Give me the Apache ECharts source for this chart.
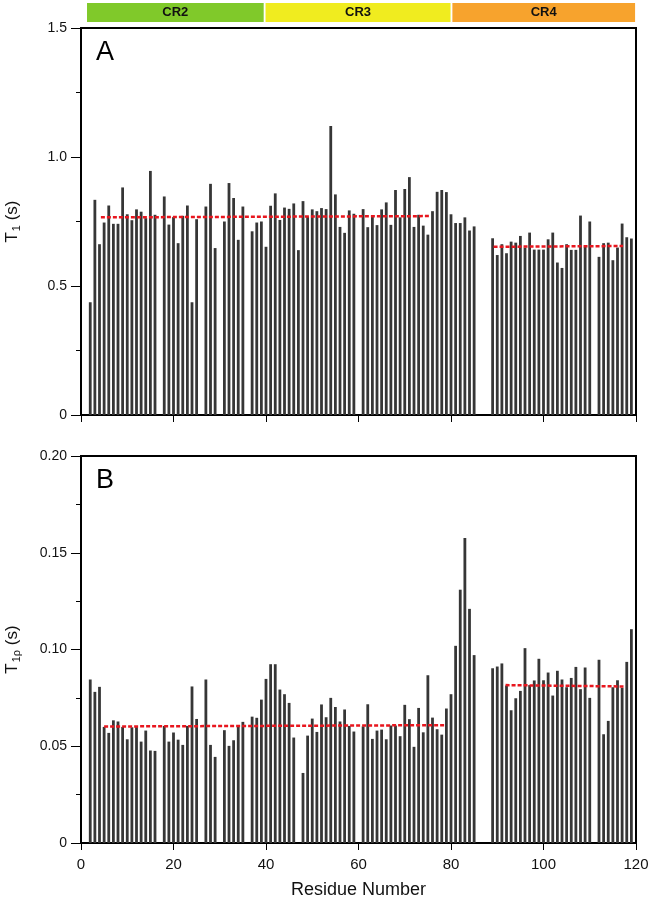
<!DOCTYPE html>
<html>
<head>
<meta charset="utf-8">
<script src="https://cdn.jsdelivr.net/npm/echarts@6/dist/echarts.min.js"></script>
<style>
html,body{margin:0;padding:0;background:#fff;}
#chart{width:651px;height:900px;}
</style>
</head>
<body>
<div id="chart"></div>
<script>
// ---------- data ----------
const regionNames = ['CR2', 'CR3', 'CR4'];
const regionStart = [1.3, 39.9, 80.3];
const regionEnd = [39.5, 79.9, 119.8];
const regionColors = ['#80c92a', '#f0ec1f', '#f7a32d'];

const residuesA = [2,3,4,5,6,7,8,9,10,11,12,13,14,15,16,18,19,20,21,22,23,24,25,27,28,29,31,32,33,34,35,
  37,38,39,40,41,42,43,44,45,46,47,48,49,50,51,52,53,54,55,56,57,58,59,
  61,62,63,64,65,66,67,68,69,70,71,72,73,74,75,76,77,78,79,80,81,82,83,84,85,
  89,90,91,92,93,94,95,96,97,98,99,100,101,102,103,104,105,106,107,108,109,110,
  112,113,114,115,116,117,118,119];
const t1Values = [0.437,0.834,0.662,0.746,0.812,0.741,0.741,0.882,0.778,0.755,0.797,0.788,0.763,0.946,0.776,
  0.847,0.738,0.767,0.666,0.772,0.812,0.437,0.759,0.808,0.896,0.647,0.750,0.899,0.841,0.679,0.808,
  0.712,0.746,0.750,0.652,0.811,0.859,0.756,0.804,0.799,0.820,0.639,0.829,0.769,0.797,0.790,0.802,0.798,1.120,0.855,0.729,0.706,0.793,0.780,
  0.798,0.728,0.769,0.736,0.797,0.824,0.737,0.872,0.766,0.876,0.922,0.729,0.776,0.734,0.699,0.790,0.865,0.872,0.864,0.778,0.744,0.744,0.766,0.715,0.731,
  0.685,0.620,0.662,0.627,0.672,0.668,0.694,0.649,0.707,0.641,0.641,0.641,0.681,0.707,0.591,0.570,0.662,0.640,0.640,0.773,0.652,0.750,
  0.613,0.666,0.668,0.600,0.649,0.742,0.689,0.684];

const residuesB = [2,3,4,5,6,7,8,9,10,11,12,13,14,15,16,18,19,20,21,22,23,24,25,27,28,29,31,32,33,34,35,
  37,38,39,40,41,42,43,44,45,46,48,49,50,51,52,53,54,55,56,57,58,59,
  61,62,63,64,65,66,67,68,69,70,71,72,73,74,75,76,77,78,79,80,81,82,83,84,85,
  89,90,91,92,93,94,95,96,97,98,99,100,101,102,103,104,105,106,107,108,109,110,
  112,113,114,115,116,117,118,119];
const t1rhoValues = [0.0845,0.0781,0.0807,0.0600,0.0569,0.0634,0.0628,0.0600,0.0536,0.0598,0.0602,0.0524,0.0581,0.0478,0.0476,
  0.0605,0.0524,0.0571,0.0534,0.0507,0.0605,0.0809,0.0641,0.0845,0.0507,0.0445,0.0583,0.0502,0.0531,0.0603,0.0626,
  0.0653,0.0647,0.0741,0.0848,0.0924,0.0924,0.0793,0.0769,0.0724,0.0545,0.0362,0.0555,0.0643,0.0574,0.0716,0.0650,0.0750,0.0703,0.0628,0.0690,0.0605,0.0576,
  0.0603,0.0717,0.0538,0.0581,0.0586,0.0536,0.0607,0.0607,0.0552,0.0714,0.0640,0.0497,0.0698,0.0572,0.0867,0.0648,0.0588,0.0560,0.0695,0.0769,0.1019,0.1309,0.1576,0.1210,0.0971,
  0.0903,0.0912,0.0928,0.0814,0.0686,0.0748,0.0786,0.1007,0.0816,0.0840,0.0952,0.0841,0.0881,0.0762,0.0890,0.0845,0.0805,0.0853,0.0910,0.0795,0.0907,0.0750,
  0.0947,0.0562,0.0631,0.0805,0.0841,0.0802,0.0936,0.1105];

// average (dashed) lines: [start residue, end residue], [start value, end value]
const avgA1X = [4.3, 75.5], avgA1Y = [0.766, 0.771];
const avgA2X = [89.2, 117.2], avgA2Y = [0.652, 0.655];
const avgB1X = [5.0, 78.8], avgB1Y = [0.0602, 0.0609];
const avgB2X = [91.8, 117.3], avgB2Y = [0.0816, 0.0809];

const xTicks = [0, 20, 40, 60, 80, 100, 120];
const yTicksA = [0, 0.5, 1.0, 1.5];
const yTicksB = [0, 0.05, 0.10, 0.15, 0.20];

// ---------- chart ----------
const FONT = '"Liberation Sans", Arial, Helvetica, sans-serif';
const zip = (xs, ys) => xs.map((x, i) => [x, ys[i]]);
const chart = echarts.init(document.getElementById('chart'), null, {renderer: 'canvas'});

const gridL = 81, gridR = 15;
const barColor = '#363636';
const redLine = {color: '#e8161e', width: 2.5, type: [4, 2]};

function yAxisCfg(gi, max, interval, fmt, nameRich) {
  return {
    type: 'value', gridIndex: gi, min: 0, max: max, interval: interval,
    axisLine: {show: true, lineStyle: {color: '#000', width: 2}},
    axisTick: {show: true, inside: false, length: 10, lineStyle: {color: '#000', width: 1}},
    minorTick: {show: true, splitNumber: 2, length: 5, lineStyle: {color: '#000', width: 1}},
    axisLabel: {fontSize: 14, color: '#111', fontFamily: FONT, margin: 14, formatter: fmt},
    splitLine: {show: false},
    name: nameRich, nameLocation: 'middle', nameRotate: 90, nameGap: 59,
    nameTextStyle: {
      color: '#111', fontFamily: FONT,
      rich: {
        t: {fontSize: 17, fontFamily: FONT, color: '#111'},
        s: {fontSize: 11, fontFamily: FONT, color: '#111', padding: [9, 0, 0, 1]}
      }
    }
  };
}

function xAxisCfg(gi, showLabels) {
  return {
    type: 'value', gridIndex: gi, min: xTicks[0], max: xTicks[xTicks.length - 1], interval: xTicks[1] - xTicks[0],
    axisLine: {show: true, lineStyle: {color: '#000', width: 2}},
    axisTick: {show: true, inside: false, length: 7, lineStyle: {color: '#000', width: 1}},
    axisLabel: {show: showLabels, fontSize: 15, color: '#111', fontFamily: FONT, margin: 14},
    splitLine: {show: false},
    name: showLabels ? 'Residue Number' : '',
    nameLocation: 'middle', nameGap: 38,
    nameTextStyle: {fontSize: 18, color: '#111', fontFamily: FONT}
  };
}

const option = {
  animation: false,
  backgroundColor: '#fff',
  grid: [
    {left: gridL, right: gridR, top: 3, height: 19, show: false, outerBoundsMode: 'none', containLabel: false},
    {left: gridL, right: gridR, top: 28, height: 387, show: true, borderColor: '#000', borderWidth: 2, backgroundColor: 'transparent', outerBoundsMode: 'none', containLabel: false},
    {left: gridL, right: gridR, top: 456, height: 387, show: true, borderColor: '#000', borderWidth: 2, backgroundColor: 'transparent', outerBoundsMode: 'none', containLabel: false}
  ],
  xAxis: [
    {type: 'value', gridIndex: 0, min: 0, max: 120, show: false},
    xAxisCfg(1, false),
    xAxisCfg(2, true)
  ],
  yAxis: [
    {type: 'value', gridIndex: 0, min: 0, max: 1, show: false},
    yAxisCfg(1, yTicksA[yTicksA.length - 1], yTicksA[1] - yTicksA[0],
      v => (Math.abs(v) < 1e-9 ? '0' : v.toFixed(1)), '{t|T}{s|1}{t| (s)}'),
    yAxisCfg(2, yTicksB[yTicksB.length - 1], yTicksB[1] - yTicksB[0],
      v => (Math.abs(v) < 1e-9 ? '0' : v.toFixed(2)), '{t|T}{s|1ρ}{t| (s)}')
  ],
  graphic: [
    {type: 'text', left: 96, top: 39, style: {text: 'A', font: '27px ' + FONT, fill: '#000'}},
    {type: 'text', left: 96, top: 467, style: {text: 'B', font: '27px ' + FONT, fill: '#000'}}
  ],
  series: [
    {
      type: 'custom', xAxisIndex: 0, yAxisIndex: 0,
      data: regionNames.map((n, i) => [regionStart[i], regionEnd[i], n, regionColors[i]]),
      renderItem: function (params, api) {
        const p0 = api.coord([api.value(0), 1]);
        const p1 = api.coord([api.value(1), 0]);
        const i = params.dataIndex;
        return {
          type: 'rect',
          shape: {x: p0[0], y: p0[1], width: p1[0] - p0[0], height: p1[1] - p0[1]},
          style: {fill: regionColors[i]},
          textContent: {style: {text: regionNames[i], font: 'bold 13px ' + FONT, fill: '#111'}},
          textConfig: {position: 'inside'}
        };
      },
      silent: true
    },
    {
      type: 'bar', xAxisIndex: 1, yAxisIndex: 1, barWidth: 2.8,
      itemStyle: {color: barColor}, data: zip(residuesA, t1Values), silent: true
    },
    {
      type: 'line', xAxisIndex: 1, yAxisIndex: 1, symbol: 'none', lineStyle: redLine,
      data: zip(avgA1X, avgA1Y), z: 5, silent: true
    },
    {
      type: 'line', xAxisIndex: 1, yAxisIndex: 1, symbol: 'none', lineStyle: redLine,
      data: zip(avgA2X, avgA2Y), z: 5, silent: true
    },
    {
      type: 'bar', xAxisIndex: 2, yAxisIndex: 2, barWidth: 2.8,
      itemStyle: {color: barColor}, data: zip(residuesB, t1rhoValues), silent: true
    },
    {
      type: 'line', xAxisIndex: 2, yAxisIndex: 2, symbol: 'none', lineStyle: redLine,
      data: zip(avgB1X, avgB1Y), z: 5, silent: true
    },
    {
      type: 'line', xAxisIndex: 2, yAxisIndex: 2, symbol: 'none', lineStyle: redLine,
      data: zip(avgB2X, avgB2Y), z: 5, silent: true
    }
  ]
};
chart.setOption(option);
</script>
</body>
</html>
